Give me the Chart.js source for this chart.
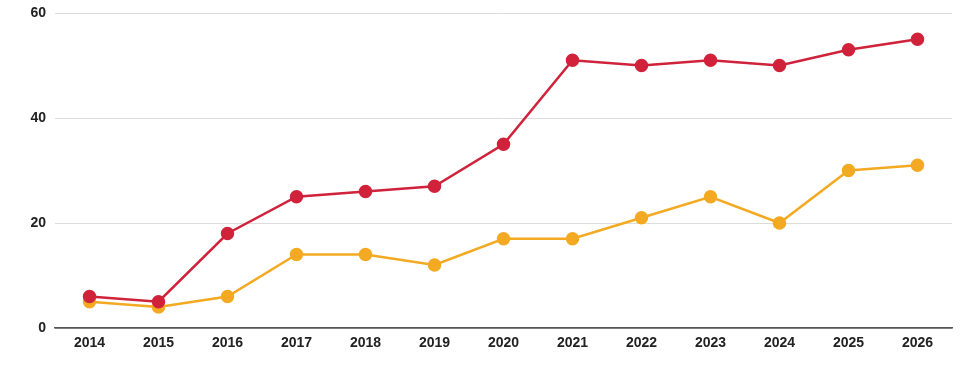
<!DOCTYPE html>
<html>
<head>
<meta charset="utf-8">
<script src="https://cdn.jsdelivr.net/npm/chart.js@4/dist/chart.umd.min.js"></script>
<style>
  html, body { margin: 0; padding: 0; background: #fff; }
  #wrap { width: 970px; height: 373px; }
</style>
</head>
<body>
<div id="wrap"><canvas id="chart"></canvas></div>
<script>
var years = ['2014', '2015', '2016', '2017', '2018', '2019', '2020', '2021', '2022', '2023', '2024', '2025', '2026'];
var redSeries = [6, 5, 18, 25, 26, 27, 35, 51, 50, 51, 50, 53, 55];
var yellowSeries = [5, 4, 6, 14, 14, 12, 17, 17, 21, 25, 20, 30, 31];
var yTicks = [0, 20, 40, 60];

var RED = '#d0223a';
var YELLOW = '#f3aa22';

Chart.defaults.font.family = '"Liberation Sans", Arial, sans-serif';
Chart.defaults.font.size = 14;
Chart.defaults.color = '#222';

// dataset 0 is drawn on top, so red goes first
new Chart(document.getElementById('chart'), {
    type: 'line',
    data: {
        labels: years,
        datasets: [{
            label: 'Red',
            data: redSeries,
            borderColor: RED,
            backgroundColor: RED,
            borderWidth: 2.5,
            pointRadius: 5.5,
            pointHoverRadius: 5.5,
            tension: 0
        }, {
            label: 'Yellow',
            data: yellowSeries,
            borderColor: YELLOW,
            backgroundColor: YELLOW,
            borderWidth: 2.5,
            pointRadius: 5.5,
            pointHoverRadius: 5.5,
            tension: 0
        }]
    },
    options: {
        responsive: true,
        maintainAspectRatio: false,
        animation: false,
        layout: { padding: { top: 13, right: 18, bottom: 0, left: 0 } },
        plugins: {
            legend: { display: false },
            tooltip: { enabled: false }
        },
        scales: {
            x: {
                offset: true,
                grid: { display: false, drawTicks: false, tickLength: 0 },
                border: { display: true, color: '#555', width: 1.5 },
                ticks: { padding: 7, font: { weight: 'bold' }, maxRotation: 0 },
                afterFit: function(scale) { scale.height = 45; }
            },
            y: {
                min: 0,
                max: 60,
                border: { display: false },
                grid: {
                    color: function(ctx) { return ctx.tick && ctx.tick.value === 0 ? '#555' : '#dcdcdc'; },
                    lineWidth: function(ctx) { return ctx.tick && ctx.tick.value === 0 ? 1.5 : 1; },
                    drawTicks: false
                },
                afterBuildTicks: function(scale) {
                    scale.ticks = yTicks.map(function(v) { return { value: v }; });
                },
                ticks: { padding: 9, font: { weight: 'bold' } },
                afterFit: function(scale) {
                    scale.width = 55;
                    scale.paddingTop = 0;
                    scale.paddingBottom = 0;
                }
            }
        }
    }
});
</script>
</body>
</html>
